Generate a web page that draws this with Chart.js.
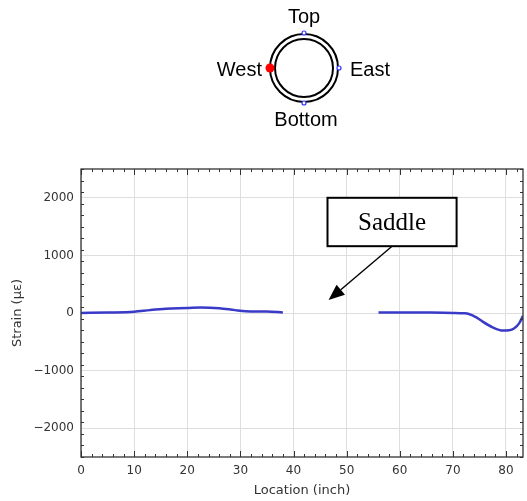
<!DOCTYPE html>
<html>
<head>
<meta charset="utf-8">
<script src="https://cdn.jsdelivr.net/npm/chart.js@4/dist/chart.umd.min.js"></script>
<style>
  html, body { margin: 0; padding: 0; background: #fff; overflow: hidden; }
  #wrap { position: relative; width: 527px; height: 501px; }
  #pipe { position: absolute; left: 0; top: 0; pointer-events: none; }
</style>
</head>
<body>
<div id="wrap">
  <canvas id="lineChart" width="527" height="501"></canvas>
  <svg id="pipe" width="527" height="160" font-family="Liberation Sans, Arial, sans-serif" font-size="20">
    <text x="304" y="23" text-anchor="middle">Top</text>
    <text x="262" y="76" text-anchor="end">West</text>
    <text x="350" y="76" text-anchor="start">East</text>
    <text x="306" y="126" text-anchor="middle">Bottom</text>
    <circle cx="304" cy="68" r="34" fill="none" stroke="#000" stroke-width="2"/>
    <circle cx="304" cy="68" r="29" fill="none" stroke="#000" stroke-width="2"/>
    <circle cx="304" cy="33" r="2" fill="#fff" stroke="#33f" stroke-width="1.2"/>
    <circle cx="339" cy="68" r="2" fill="#fff" stroke="#33f" stroke-width="1.2"/>
    <circle cx="304" cy="103" r="2" fill="#fff" stroke="#33f" stroke-width="1.2"/>
    <circle cx="270" cy="68" r="4.5" fill="#f00"/>
  </svg>
</div>
<script>
var locations = [0, 5, 10, 13, 16, 20, 22.5, 26, 29, 31, 35, 38, 47,
                 56, 60, 65, 70, 72, 73, 74.5, 75.6, 77.5, 79.4, 80.6, 81.5, 82.5, 83.2];
var strainWest = [0, 8, 22, 50, 72, 85, 95, 82, 50, 32, 25, 10, null,
                  8, 10, 8, 2, -5, -17, -80, -150, -250, -305, -300, -270, -175, -50];
var xTicks = [0, 10, 20, 30, 40, 50, 60, 70, 80];
var yTicks = [-2000, -1000, 0, 1000, 2000];
var xMinorStep = 2;
var yMinorStep = 200;

// annotation "Saddle" en unites des donnees
var saddleBox = { x1: 46.4, x2: 70.7, y1: 2000, y2: 1160 };
var saddleTip = { x: 46.6, y: 225 };

function minus(v) {
    return v < 0 ? '\u2212' + Math.abs(v) : '' + v;
}

var frame = {
    id: 'frame',
    afterDatasetsDraw: function (chart) {
        var ctx = chart.ctx;
        var a = chart.chartArea;
        var sx = chart.scales.x, sy = chart.scales.y;
        ctx.save();
        ctx.strokeStyle = '#333';
        ctx.lineWidth = 1;
        ctx.beginPath();
        // ticks vers l'interieur, sur les quatre cotes
        for (var v = sx.min; v <= sx.max + 1e-6; v += xMinorStep) {
            var px = Math.round(sx.getPixelForValue(v)) + 0.5;
            var len = (v % 10 === 0) ? 6 : 3;
            ctx.moveTo(px, a.bottom); ctx.lineTo(px, a.bottom - len);
            ctx.moveTo(px, a.top); ctx.lineTo(px, a.top + len);
        }
        for (var w = sy.min; w <= sy.max + 1e-6; w += yMinorStep) {
            var py = Math.round(sy.getPixelForValue(w)) + 0.5;
            var l2 = (w % 1000 === 0) ? 6 : 3;
            ctx.moveTo(a.left, py); ctx.lineTo(a.left + l2, py);
            ctx.moveTo(a.right, py); ctx.lineTo(a.right - l2, py);
        }
        ctx.stroke();
        ctx.lineWidth = 1.3;
        ctx.strokeRect(a.left, a.top, a.right - a.left, a.bottom - a.top);
        ctx.restore();
    },
    afterDraw: function (chart) {
        var ctx = chart.ctx;
        var sx = chart.scales.x, sy = chart.scales.y;
        var l = sx.getPixelForValue(saddleBox.x1), r = sx.getPixelForValue(saddleBox.x2);
        var t = sy.getPixelForValue(saddleBox.y1), b = sy.getPixelForValue(saddleBox.y2);
        ctx.save();
        ctx.fillStyle = '#fff';
        ctx.fillRect(l, t, r - l, b - t);
        ctx.strokeStyle = '#000';
        ctx.lineWidth = 2;
        ctx.strokeRect(l, t, r - l, b - t);
        ctx.fillStyle = '#000';
        ctx.font = '25px "Liberation Serif", "Times New Roman", serif';
        ctx.textAlign = 'center';
        ctx.textBaseline = 'middle';
        ctx.fillText('Saddle', (l + r) / 2, (t + b) / 2 + 1);
        // fleche
        var x0 = (l + r) / 2, y0 = b;
        var x1 = sx.getPixelForValue(saddleTip.x), y1 = sy.getPixelForValue(saddleTip.y);
        var ang = Math.atan2(y1 - y0, x1 - x0);
        var hl = 16, hw = 6.5;
        var bx = x1 - hl * Math.cos(ang), by = y1 - hl * Math.sin(ang);
        ctx.lineWidth = 1.4;
        ctx.beginPath();
        ctx.moveTo(x0, y0); ctx.lineTo(bx, by);
        ctx.stroke();
        ctx.beginPath();
        ctx.moveTo(x1, y1);
        ctx.lineTo(bx + hw * Math.sin(ang), by - hw * Math.cos(ang));
        ctx.lineTo(bx - hw * Math.sin(ang), by + hw * Math.cos(ang));
        ctx.closePath();
        ctx.fill();
        ctx.restore();
    }
};

var points = [];
for (var i = 0; i < locations.length; i++) {
    points.push({ x: locations[i], y: strainWest[i] });
}

new Chart(document.getElementById('lineChart').getContext('2d'), {
    type: 'line',
    data: {
        datasets: [{
            label: 'West',
            data: points,
            borderColor: '#3a3ac8',
            borderWidth: 2.5,
            pointRadius: 0,
            cubicInterpolationMode: 'monotone',
            spanGaps: false,
            fill: false
        }]
    },
    options: {
        responsive: false,
        animation: false,
        events: [],
        layout: { padding: { top: 169, right: 4, left: 0, bottom: 0 } },
        plugins: { legend: { display: false }, tooltip: { enabled: false } },
        scales: {
            x: {
                type: 'linear',
                min: 0,
                max: 83.2,
                afterBuildTicks: function (s) { s.ticks = xTicks.map(function (v) { return { value: v }; }); },
                afterFit: function (s) { s.height = 44; },
                grid: { color: '#dedede', lineWidth: 1, drawTicks: false },
                border: { display: false },
                ticks: { padding: 7, color: '#333', font: { family: 'DejaVu Sans', size: 12 }, maxRotation: 0 },
                title: { display: true, text: 'Location (inch)', color: '#333', padding: { top: 2, bottom: 3 },
                         font: { family: 'DejaVu Sans', size: 13 } }
            },
            y: {
                min: -2500,
                max: 2500,
                afterBuildTicks: function (s) { s.ticks = yTicks.map(function (v) { return { value: v }; }); },
                afterFit: function (s) { s.width = 81; },
                grid: { color: '#dedede', lineWidth: 1, drawTicks: false },
                border: { display: false },
                ticks: { padding: 7, color: '#333', font: { family: 'DejaVu Sans', size: 12 },
                         callback: function (v) { return minus(v); } },
                title: { display: true, text: 'Strain (\u03bc\u03b5)', color: '#333', padding: { top: 10, bottom: 4 },
                         font: { family: 'DejaVu Sans', size: 13 } }
            }
        }
    },
    plugins: [frame]
});
</script>
</body>
</html>
